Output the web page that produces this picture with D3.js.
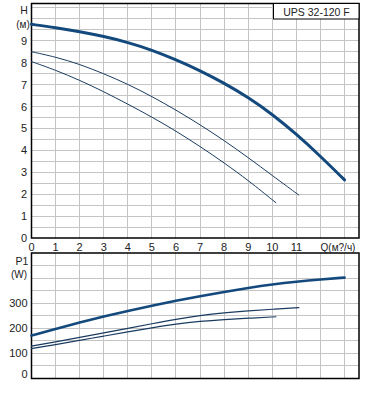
<!DOCTYPE html>
<html><head><meta charset="utf-8">
<script src="https://cdn.jsdelivr.net/npm/d3@7"></script>
<style>
html,body{margin:0;padding:0;background:#fff;}
svg text{font-family:"Liberation Sans",Arial,sans-serif;fill:#222;}
</style></head>
<body><svg id="c" width="371" height="414"></svg>
<script>
// Data
const qTicks = [0,1,2,3,4,5,6,7,8,9,10,11];
const hTicks = [0,1,2,3,4,5,6,7,8,9];
const pTicks = [0,100,200,300];
const title = "UPS 32-120 F";

const qHigh = [0,1,2,3,4,5,6,7,8,9,10,11,12,13];
const hHigh = [9.75,9.6,9.42,9.2,8.93,8.58,8.14,7.64,7.07,6.42,5.65,4.74,3.73,2.65];
const pHigh = [171,198,223,247,269,290,310,328,345,361,375,386,395,402];

const qMid = [0,1,2,3,4,5,6,7,8,9,10,11.1];
const hMid = [8.5,8.26,7.93,7.5,7.02,6.46,5.84,5.17,4.45,3.67,2.85,1.96];
const pMid = [129,146,164,182,200,218,236,251,262,270,276,282];

const qLow = [0,1,2,3,4,5,6,7,8,9,10.15];
const hLow = [8.05,7.66,7.2,6.68,6.11,5.52,4.88,4.18,3.43,2.63,1.61];
const pLow = [119,135,152,169,186,202,217,228,235,240,246];

const svg = d3.select("#c");
const L = 31.5, R = 359;
const x = d3.scaleLinear().domain([0,13.6]).range([L,R]);
const yH = d3.scaleLinear().domain([0,10.7]).range([238,3.5]);
const yP = d3.scaleLinear().domain([0,500]).range([378.5,253]);

const grid = "#c4c4c4";
function drawGrid(y, yStep, yMax){
  const g = svg.append("g");
  g.selectAll(".v").data(d3.range(1,14)).join("line")
    .attr("x1",d=>x(d)).attr("x2",d=>x(d))
    .attr("y1",y.range()[0]).attr("y2",y.range()[1])
    .attr("stroke",grid).attr("stroke-width",1).attr("shape-rendering","crispEdges");
  g.selectAll(".h").data(d3.range(yStep,yMax+1e-6,yStep)).join("line")
    .attr("x1",L).attr("x2",R)
    .attr("y1",d=>y(d)).attr("y2",d=>y(d))
    .attr("stroke",grid).attr("stroke-width",1).attr("shape-rendering","crispEdges");
  svg.append("rect").attr("x",L).attr("y",y.range()[1])
    .attr("width",R-L).attr("height",y.range()[0]-y.range()[1])
    .attr("fill","none").attr("stroke","#000").attr("stroke-width",1.5);
}
drawGrid(yH,0.5,10.5);
drawGrid(yP,50,450);

// title box
svg.append("rect").attr("x",273.5).attr("y",3.5).attr("width",R-273.5).attr("height",15.5)
  .attr("fill","#fff").attr("stroke","#000").attr("stroke-width",1);
svg.append("text").attr("x",316.5).attr("y",15.5).attr("text-anchor","middle")
  .attr("font-size",10.5).text(title);

// axes labels
svg.append("g").selectAll("text").data(qTicks).join("text")
  .attr("x",d=>x(d)).attr("y",251).attr("text-anchor","middle")
  .attr("font-size",11).text(d=>d);
svg.append("text").attr("x",338).attr("y",251).attr("text-anchor","middle")
  .attr("font-size",10).text("Q(м?/ч)");
svg.append("g").selectAll("text").data(hTicks).join("text")
  .attr("x",27).attr("y",d=>yH(d)+4).attr("text-anchor","end")
  .attr("font-size",11).text(d=>d);
svg.append("text").attr("x",24).attr("y",14).attr("text-anchor","middle").attr("font-size",10.5).text("H");
svg.append("text").attr("x",23).attr("y",28).attr("text-anchor","middle").attr("font-size",10).text("(м)");
svg.append("g").selectAll("text").data(pTicks).join("text")
  .attr("x",27.5).attr("y",d=>(d===0?yP(d)-5:yP(d))+4).attr("text-anchor","end")
  .attr("font-size",11).text(d=>d);
svg.append("text").attr("x",22).attr("y",265).attr("text-anchor","middle").attr("font-size",10.5).text("P1");
svg.append("text").attr("x",19).attr("y",278).attr("text-anchor","middle").attr("font-size",10).text("(W)");

// curves
const thick = "#13497c", thin = "#1a3b60";
function curve(qs, vs, y, color, w){
  const line = d3.line().x(d=>x(d[0])).y(d=>y(d[1])).curve(d3.curveBasis);
  svg.append("path").datum(qs.map((q,i)=>[q,vs[i]])).attr("d",line)
    .attr("fill","none").attr("stroke",color).attr("stroke-width",w)
    .attr("stroke-linecap","round");
}
curve(qHigh,hHigh,yH,thick,3);
curve(qMid,hMid,yH,thin,1);
curve(qLow,hLow,yH,thin,1);
curve(qHigh,pHigh,yP,thick,2.6);
curve(qMid,pMid,yP,thin,1.2);
curve(qLow,pLow,yP,thin,1.2);
</script></body></html>
